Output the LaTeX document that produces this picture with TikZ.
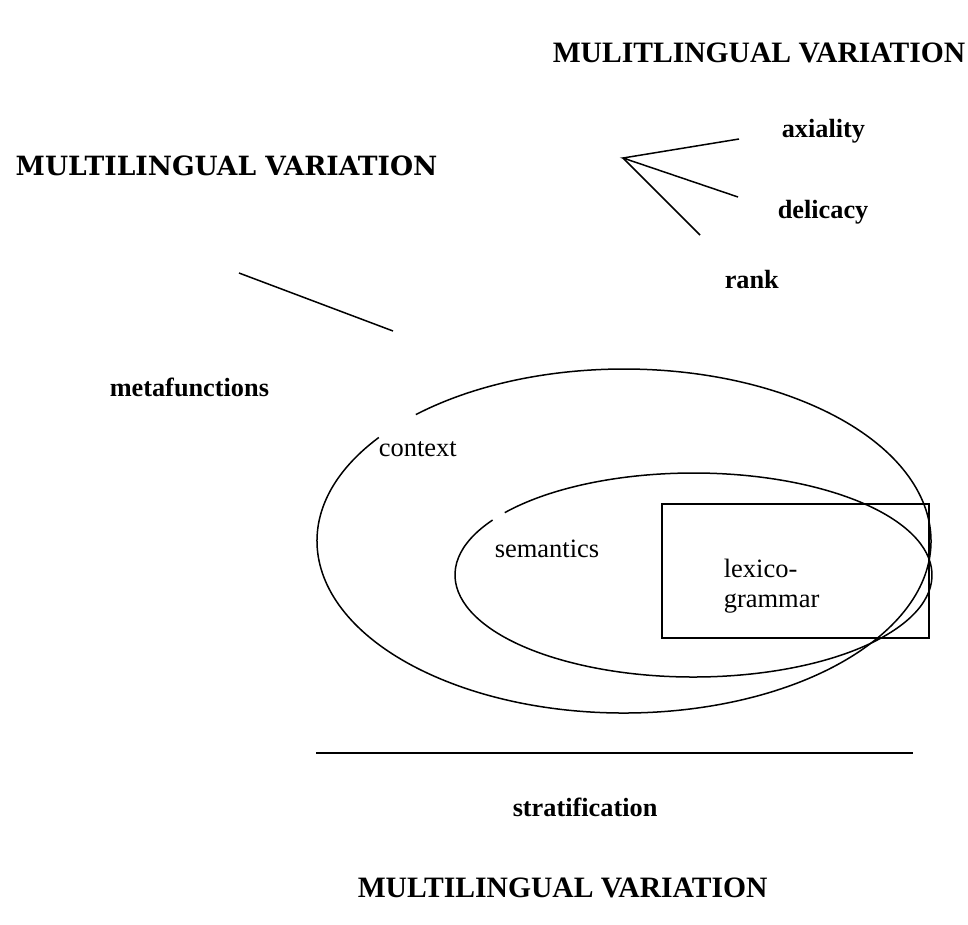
\documentclass[tikz,border=0pt]{standalone}
\usepackage{fontspec}
\setmainfont{Liberation Serif}
\newfontfamily\antiqua{DejaVu Serif}
\usetikzlibrary{positioning}

\tikzset{
  lbl/.style={anchor=base west, inner sep=0pt,
              font=\fontsize{26.5}{31}\selectfont},
  blbl/.style={lbl, font=\fontsize{26.3}{31}\selectfont\bfseries},
  ttl/.style={lbl, font=\fontsize{29.6}{34}\selectfont\bfseries},
}

\begin{document}
\begin{tikzpicture}[x=1pt, y=1pt, line width=1.5pt]
    \useasboundingbox (0,0) rectangle (968,-924);

    % titles
    \node[ttl] (toptitle) at (552,-62) {MULITLINGUAL VARIATION};
    \node[lbl, font=\fontsize{26.5}{31}\selectfont\antiqua\bfseries]
          (lefttitle) at (15,-175) {MULTILINGUAL VARIATION};
    \node[ttl] (bottitle) at (357,-897) {MULTILINGUAL VARIATION};

    % axiality, delicacy, rank
    \coordinate (fan) at (623,-158);
    \coordinate (axend) at (739,-139);
    \coordinate (delend) at (738,-197);
    \coordinate (rankend) at (700,-235);
    \draw (axend) -- (fan) -- (delend);
    \draw (fan) -- (rankend);
    \node[blbl] (axiality) at (781,-137) {axiality};
    \node[blbl] (delicacy) at (777,-218) {delicacy};
    \node[blbl] (rank) at (724,-288) {rank};

    % metafunctions
    \coordinate (mfa) at (239,-273);
    \coordinate (mfb) at (393,-331);
    \draw (mfa) -- (mfb);
    \node[blbl] (metafunctions) at (109,-396) {metafunctions};

    % strata
    \coordinate (ctx) at (624,-541);
    \coordinate (sem) at (693.5,-575);
    \draw ([shift={(143:307 and 172)}]ctx)
          arc[start angle=143, end angle=492.7, x radius=307, y radius=172];
    \draw ([shift={(147.4:238.5 and 102)}]sem)
          arc[start angle=147.4, end angle=502.3, x radius=238.5, y radius=102];
    \draw (662,-504) rectangle (929,-638);
    \node[lbl] (context) at (378,-456) {context};
    \node[lbl] (semantics) at (494,-557) {semantics};
    \node[lbl] (lexico) at (723,-577) {lexico-};
    \node[lbl] (grammar) at (723,-607) {grammar};

    % stratification
    \coordinate (sta) at (316,-753);
    \coordinate (stb) at (913,-753);
    \draw (sta) -- (stb);
    \node[blbl] (stratification) at (512,-816) {stratification};
\end{tikzpicture}
\end{document}
